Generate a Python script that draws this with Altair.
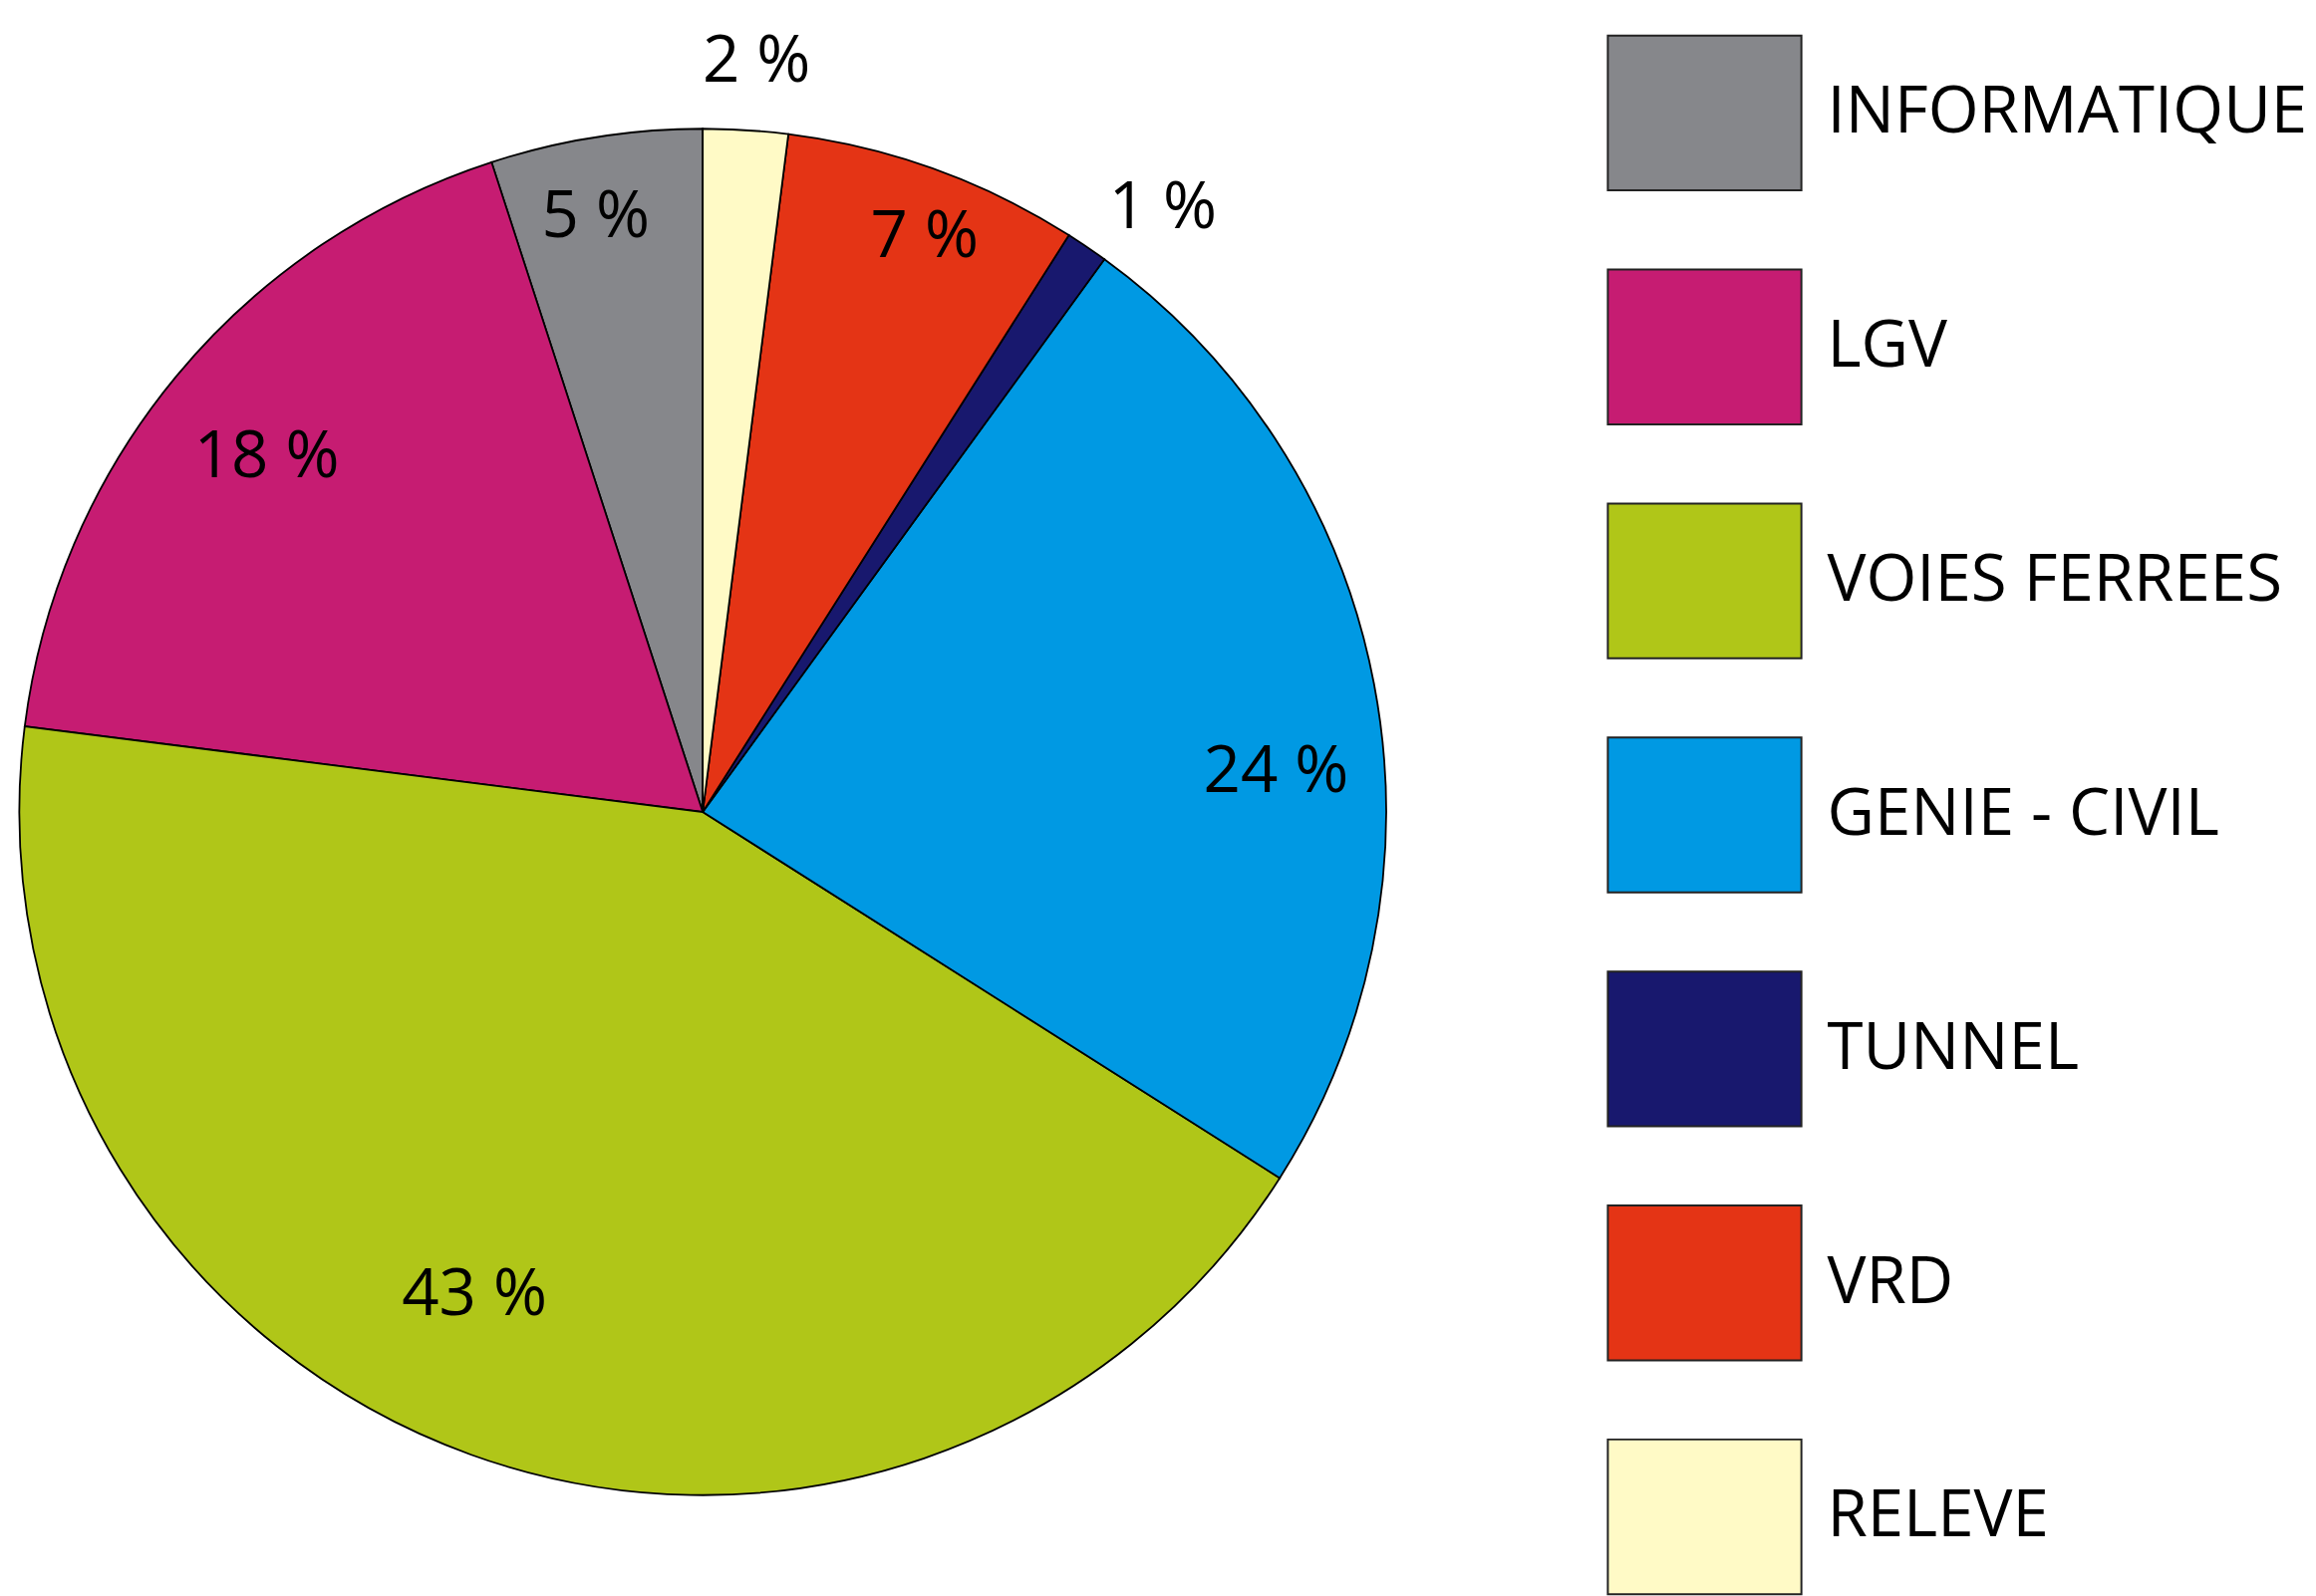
import math
import altair as alt
import pandas as pd

categories = ["INFORMATIQUE", "LGV", "VOIES FERREES", "GENIE - CIVIL", "TUNNEL", "VRD", "RELEVE"]
shares = [5, 18, 43, 24, 1, 7, 2]
labels = ["5 %", "18 %", "43 %", "24 %", "1 %", "7 %", "2 %"]
# clockwise order starting from 12 o'clock
slice_order = [6, 5, 4, 3, 2, 1, 0]
colors = ["#86878b", "#c61c72", "#b0c618", "#0099e3", "#18186e", "#e43415", "#fffac6"]

df = pd.DataFrame({"cat": categories, "share": shares, "label": labels, "pos": slice_order})

FONT = "Open Sans"

theta = alt.Theta("share:Q", stack=True)
order = alt.Order("pos:Q", sort="ascending")

pie = alt.Chart(df).mark_arc(outerRadius=692, stroke="black", strokeWidth=1.8).encode(
    theta=theta,
    order=order,
    color=alt.Color(
        "cat:N",
        scale=alt.Scale(domain=categories, range=colors),
        sort=categories,
        legend=alt.Legend(
            title=None,
            orient="none",
            legendX=1619,
            legendY=0,
            symbolType="M-1,-0.8L1,-0.8L1,0.8L-1,0.8Z",
            symbolSize=38416,
            symbolStrokeColor="#222222",
            symbolStrokeWidth=2,
            symbolOpacity=1,
            labelFont=FONT,
            labelFontSize=66,
            labelColor="black",
            labelOffset=25,
            labelLimit=0,
            rowPadding=55,
        ),
    ),
)


def label_layer(cat, radius, offset_deg):
    return alt.Chart(df).transform_calculate(
        t=f"datum.cat == '{cat}' ? datum.label : ''"
    ).mark_text(
        radius=radius,
        thetaOffset=math.radians(offset_deg),
        font=FONT,
        fontSize=66,
        color="black",
        align="center",
        baseline="middle",
    ).encode(theta=theta, order=order, text="t:N")


texts = [
    label_layer("INFORMATIQUE", 612, -1.2),
    label_layer("LGV", 569, -0.5),
    label_layer("VOIES FERREES", 541, 5.5),
    label_layer("GENIE - CIVIL", 582, 6.8),
    label_layer("TUNNEL", 769, 3.1),
    label_layer("VRD", 624, 1.3),
    label_layer("RELEVE", 762, 0.5),
]

chart = alt.layer(pie, *texts).properties(
    width=1407, height=1614, padding=0
).configure_view(stroke=None)

chart.save("out.html", embed_options={"renderer": "svg", "actions": False})
